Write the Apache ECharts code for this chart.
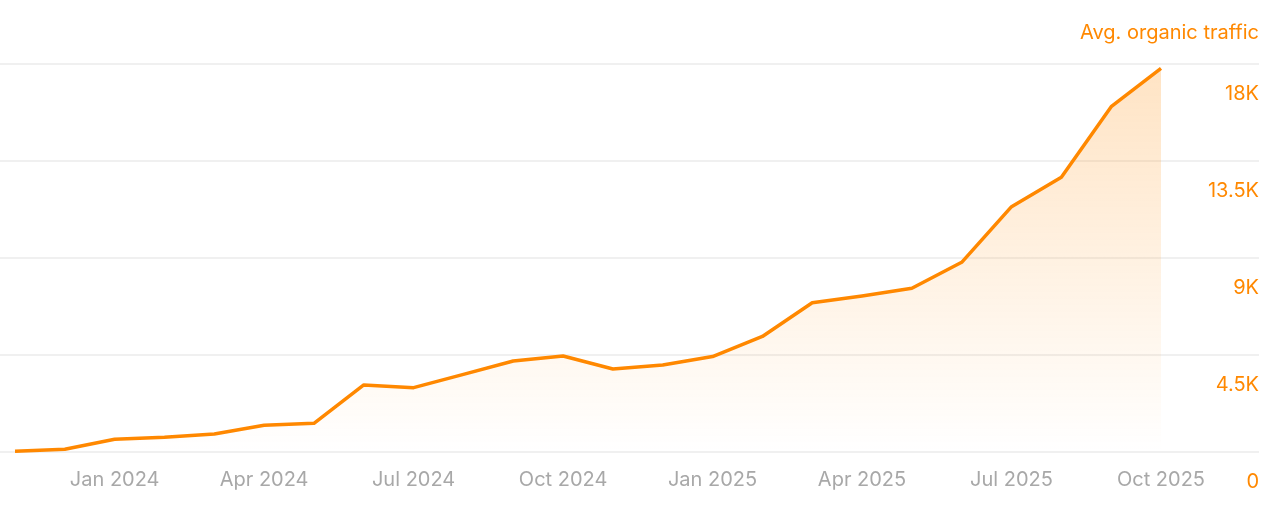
<!DOCTYPE html>
<html>
<head>
<meta charset="utf-8">
<script src="https://cdn.jsdelivr.net/npm/echarts@6/dist/echarts.min.js"></script>
<style>
html,body{margin:0;padding:0;background:#fff;}
#chart{width:1287px;height:516px;}
</style>
</head>
<body>
<div id="chart"></div>
<script>
const months = ["Nov 2023","Dec 2023","Jan 2024","Feb 2024","Mar 2024","Apr 2024","May 2024","Jun 2024","Jul 2024","Aug 2024","Sep 2024","Oct 2024","Nov 2024","Dec 2024","Jan 2025","Feb 2025","Mar 2025","Apr 2025","May 2025","Jun 2025","Jul 2025","Aug 2025","Sep 2025","Oct 2025"];
const traffic = [30,125,590,680,835,1240,1330,3110,2985,3600,4220,4455,3850,4035,4430,5360,6925,7235,7595,8800,11380,12745,16020,17800];
const yTicks = [0,4500,9000,13500,18000];
const yTickLabels = ["0","4.5K","9K","13.5K","18K"];
const seriesName = "Avg. organic traffic";

const orange = "#ff8800";
const font = "Inter, 'Noto Sans', sans-serif";
const chart = echarts.init(document.getElementById('chart'));
chart.setOption({
  animation:false,
  title:{text:seriesName, right:28, top:23, padding:0, textStyle:{color:orange, fontSize:20, fontWeight:'normal', fontFamily:font}},
  grid:[
    {left:0, right:28, top:64, bottom:64, containLabel:false},
    {left:15, right:126, top:64, bottom:64, containLabel:false}
  ],
  xAxis:[
    {type:'value', gridIndex:0, show:false, min:0, max:1},
    {type:'category', gridIndex:1, data:months, boundaryGap:false,
     axisLine:{show:false}, axisTick:{show:false},
     axisLabel:{interval:function(i){return i%3===2;}, color:'#a8a8a8', fontSize:20, fontFamily:font, margin:18,
       formatter:function(v){return v;}},
     splitLine:{show:false}}
  ],
  yAxis:[
    {type:'value', gridIndex:0, position:'right', min:0, max:18000, interval:4500,
     axisLine:{show:false}, axisTick:{show:false},
     splitLine:{show:true, lineStyle:{color:'#ebebeb', width:1.5}},
     axisLabel:{inside:true, align:'right', verticalAlign:'top', margin:0, padding:[20,0,0,0], lineHeight:20,
       color:orange, fontSize:20, fontFamily:font,
       formatter:function(v){const i=yTicks.indexOf(v); return i>=0?yTickLabels[i]:'';}}},
    {type:'value', gridIndex:1, show:false, min:0, max:18000, interval:4500, splitLine:{show:false}}
  ],
  series:[{
    name:seriesName, type:'line', xAxisIndex:1, yAxisIndex:1, data:traffic,
    showSymbol:false, symbol:'none',
    lineStyle:{color:orange, width:3.5, join:'round'},
    itemStyle:{color:orange},
    areaStyle:{color:new echarts.graphic.LinearGradient(0,0,0,1,[
      {offset:0, color:'rgba(255,136,0,0.33)'},
      {offset:1, color:'rgba(255,136,0,0)'}
    ])}
  }]
});
</script>
</body>
</html>
